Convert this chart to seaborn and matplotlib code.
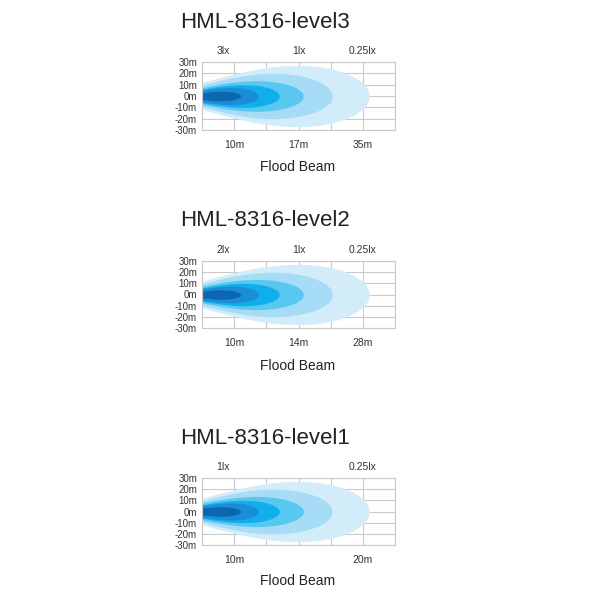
import numpy as np
import matplotlib
matplotlib.use("Agg")
import matplotlib.pyplot as plt
import seaborn as sns

# panel texts
titles = ["HML-8316-level3", "HML-8316-level2", "HML-8316-level1"]
lux_labels = [["3lx", "1lx", "0.25lx"], ["2lx", "1lx", "0.25lx"], ["1lx", "0.25lx"]]
lux_pos = [[0.65, 3, 5], [0.65, 3, 5], [0.65, 5]]
dist_labels = [["10m", "17m", "35m"], ["10m", "14m", "28m"], ["10m", "20m"]]
dist_pos = [[1, 3, 5], [1, 3, 5], [1, 5]]
y_ticks = [30, 20, 10, 0, -10, -20, -30]

# beam contours, outermost first (x in grid columns, y in metres)
reach = [5.2, 4.05, 3.15, 2.4, 1.75, 1.2]
peak_at = [3.0, 2.2, 1.7, 1.3, 0.95, 0.6]
half_width = [27, 20, 13.5, 10, 7.5, 4.2]
edge_width = [12, 9.5, 7.5, 6, 5, 3]
beam_colors = ["#d2ecf9", "#a6dcf5", "#58c8f0", "#10aeea", "#1b8dd6", "#0c67b1"]

sns.set_theme(style="white")
plt.rcParams['font.family'] = ['Liberation Sans', 'DejaVu Sans']

fig = plt.figure(figsize=(6, 6), dpi=100)

# pixel layout of each block: title y, axes top, axes bottom, flood beam y
blocks = [(23, 62, 130, 167), (220, 261, 328, 366), (438, 478, 545, 581)]


def beam_outline(L, xm, W, h0):
    x = np.linspace(0, L, 300)
    h = np.where(
        x < xm,
        h0 + (W - h0) * np.sin(np.pi / 2 * np.clip(x / xm, 0, 1)),
        W * np.sqrt(np.clip(1 - ((x - xm) / (L - xm)) ** 2, 0, 1)),
    )
    return x, h


for i in range(3):
    ty, top, bot, fy = blocks[i]
    ax = fig.add_axes([202 / 600, 1 - bot / 600, 193 / 600, (bot - top) / 600])

    for L, xm, W, h0, c in zip(reach, peak_at, half_width, edge_width, beam_colors):
        x, h = beam_outline(L, xm, W, h0)
        ax.fill_between(x, -h, h, color=c, lw=0, zorder=2)

    ax.set_xlim(0, 6)
    ax.set_ylim(-30, 30)
    ax.set_yticks(y_ticks)
    ax.set_yticklabels([f"{v}m" for v in y_ticks])
    ax.set_xticks(range(7))
    ax.set_xticklabels([dist_labels[i][dist_pos[i].index(k)] if k in dist_pos[i] else "" for k in range(7)])
    ax.tick_params(axis="both", length=0, colors="#333333")
    ax.tick_params(axis="y", labelsize=7, pad=3.5)
    ax.tick_params(axis="x", labelsize=7.5, pad=7)
    ax.grid(True, color="#c9c9c9", lw=0.8, zorder=1)
    ax.set_axisbelow(True)
    for s in ax.spines.values():
        s.set_color("#c9c9c9")
        s.set_linewidth(0.8)

    sec = ax.secondary_xaxis("top")
    sec.set_xticks(lux_pos[i])
    sec.set_xticklabels(lux_labels[i])
    sec.tick_params(length=0, labelsize=7.5, pad=4, colors="#333333")
    for s in sec.spines.values():
        s.set_visible(False)

    fig.text(180 / 600, 1 - ty / 600, titles[i], fontsize=16, color="#222222",
             ha="left", va="center")
    fig.text(298 / 600, 1 - fy / 600, "Flood Beam", fontsize=10, color="#222222",
             ha="center", va="center")

plt.savefig("out.png", dpi=100)
